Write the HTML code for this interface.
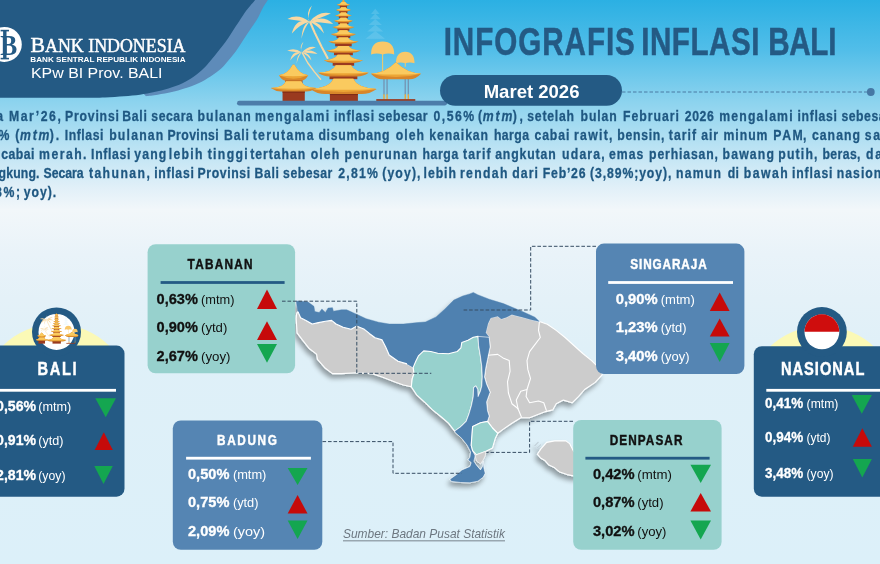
<!DOCTYPE html>
<html lang="id"><head><meta charset="utf-8"><title>Infografis Inflasi Bali</title>
<style>
html,body{margin:0;padding:0;background:#dcf0fa;}
body{width:880px;height:564px;overflow:hidden;font-family:"Liberation Sans",sans-serif;}
svg{display:block}
text{font-family:"Liberation Sans",sans-serif;}
.serif{font-family:"Liberation Serif",serif;}
</style></head><body>
<svg width="880" height="564" viewBox="0 0 880 564">
<defs>
<linearGradient id="bg" x1="0" y1="0" x2="0" y2="1">
<stop offset="0" stop-color="#2bb0e3"/>
<stop offset="0.09" stop-color="#52bee9"/>
<stop offset="0.18" stop-color="#8cd3ee"/>
<stop offset="0.27" stop-color="#bfe4f4"/>
<stop offset="0.335" stop-color="#e2f0f8"/>
<stop offset="0.372" stop-color="#f2f7fa"/>
<stop offset="0.45" stop-color="#e9f3f9"/>
<stop offset="0.53" stop-color="#e4f1f8"/>
<stop offset="0.62" stop-color="#dff0f8"/>
<stop offset="1" stop-color="#dcf0f9"/>
</linearGradient>
<filter id="sh" x="-10%" y="-10%" width="120%" height="130%">
<feGaussianBlur in="SourceAlpha" stdDeviation="2.8"/>
<feOffset dx="-2" dy="4"/>
<feComponentTransfer><feFuncA type="linear" slope="0.36"/></feComponentTransfer>
<feMerge><feMergeNode/><feMergeNode in="SourceGraphic"/></feMerge>
</filter>
</defs>
<rect width="880" height="564" fill="url(#bg)"/>
<g id="header"><path d="M267.8,0.0 C266.9,1.5 264.1,5.7 262.3,8.9 C260.5,12.2 259.1,16.0 257.0,19.5 C254.9,23.0 252.3,26.6 249.9,30.1 C247.5,33.6 245.2,37.2 242.8,40.8 C240.4,44.3 238.1,48.1 235.7,51.4 C233.3,54.6 231.0,57.5 228.6,60.3 C226.2,63.1 224.4,65.5 221.5,68.2 C218.6,70.9 214.7,73.7 210.9,76.2 C207.1,78.7 202.9,81.2 198.5,83.3 C194.1,85.4 188.7,87.1 184.3,88.6 C179.9,90.1 176.3,91.1 171.9,92.1 C167.5,93.1 162.0,94.1 157.7,94.8 C153.4,95.5 147.9,96.0 146.0,96.2 L140,90 L240,0 Z" fill="#5e8bb9"/><path d="M255.2,0.0 C253.7,1.8 249.0,7.0 246.3,10.6 C243.6,14.2 241.6,17.8 239.2,21.3 C236.8,24.9 234.4,28.4 232.1,31.9 C229.8,35.4 227.4,39.2 225.1,42.5 C222.8,45.8 220.4,48.4 218.0,51.4 C215.6,54.4 213.3,57.5 210.9,60.3 C208.5,63.1 206.8,65.4 203.8,68.2 C200.9,71.0 196.8,74.6 193.2,77.1 C189.6,79.6 186.6,81.4 182.5,83.3 C178.4,85.2 173.1,87.1 168.4,88.6 C163.7,90.1 158.9,91.1 154.2,92.1 C149.5,93.1 145.0,94.1 140.0,94.8 C135.0,95.5 129.8,95.9 124.0,96.3 C118.2,96.7 111.5,97.2 105.0,97.4 C98.5,97.6 88.3,97.7 85.0,97.7 L0,97.7 L0,0 Z" fill="#245a84"/></g>
<g id="logo">
<circle cx="4.3" cy="44.4" r="17.5" fill="#fff"/>
<rect x="3.1" y="30.5" width="3.4" height="28.5" fill="#245a84"/>
<rect x="0.6" y="29.8" width="8.4" height="1.6" fill="#245a84"/>
<rect x="0.6" y="57.8" width="8.4" height="1.6" fill="#245a84"/>
<text class="serif" x="0.2" y="55.3" font-size="30" font-weight="bold" fill="#245a84" textLength="17" lengthAdjust="spacingAndGlyphs">B</text>
<text class="serif" x="30.6" y="51.5" font-size="21.8" fill="#fff" stroke="#fff" stroke-width="0.45">B</text>
<text class="serif" x="45" y="51.5" font-size="19" fill="#fff" stroke="#fff" stroke-width="0.45" textLength="140.5" lengthAdjust="spacingAndGlyphs">ANK INDONESIA</text>
<text x="30.3" y="61.8" font-size="7" font-weight="bold" fill="#fff" textLength="155.2" lengthAdjust="spacingAndGlyphs">BANK SENTRAL REPUBLIK INDONESIA</text>
<text x="31" y="77.5" font-size="14.7" fill="#fff" textLength="131.5" lengthAdjust="spacingAndGlyphs">KPw BI Prov. BALI</text>
</g>
<g id="temple">
<g fill="#b9e6f8" opacity="0.2">
<path d="M375.29,8.69 L379.54,13.91 L371.04,13.91 Z"/>
<path d="M375.29,13.52 L380.7,19.32 L369.88,19.32 Z"/>
<path d="M375.29,18.93 L381.86,25.12 L368.72,25.12 Z"/>
<path d="M375.29,24.73 L383.21,31.49 L367.37,31.49 Z"/>
<path d="M375.29,30.91 L384.95,38.64 L365.63,38.64 Z"/>
</g>
<path d="M310.19,22.22 L314.82,32.84 L321.39,46.37 L327.57,57.96" fill="none" stroke="#f8d8a2" stroke-width="2.10" stroke-linecap="round" stroke-linejoin="round"/>
<path d="M309.61,21.64 Q298.01,12.94 287.39,18.93 Q300.91,21.3 309.61,21.64 Z" fill="#f8d8a2"/>
<path d="M309.61,21.64 Q295.7,17.39 291.83,33.62 Q299.17,24.25 309.61,21.64 Z" fill="#f8d8a2"/>
<path d="M309.61,21.64 Q302.26,23.57 301.49,38.64 Q304.1,27.72 309.61,21.64 Z" fill="#f8d8a2"/>
<path d="M309.61,21.64 Q319.27,10.43 330.86,13.52 Q316.85,19.42 309.61,21.64 Z" fill="#f8d8a2"/>
<path d="M309.61,21.64 Q323.52,14.3 333.18,23.96 Q320.04,21.93 309.61,21.64 Z" fill="#f8d8a2"/>
<path d="M309.61,21.64 Q320.81,20.67 324.1,33.62 Q318.01,25.55 309.61,21.64 Z" fill="#f8d8a2"/>
<path d="M309.61,21.64 Q305.36,11.98 311.92,5.41 Q306.42,18.64 309.61,21.64 Z" fill="#f8d8a2"/>
<path d="M302.46,53.13 L307.67,62.79 L314.44,71.87 L320.62,79.21" fill="none" stroke="#f8d8a2" stroke-width="1.39" stroke-linecap="round" stroke-linejoin="round"/>
<path d="M301.88,52.55 Q294.23,46.81 287.21,50.77 Q296.14,52.33 301.88,52.55 Z" fill="#f8d8a2"/>
<path d="M301.88,52.55 Q292.7,49.74 290.15,60.46 Q294.99,54.27 301.88,52.55 Z" fill="#f8d8a2"/>
<path d="M301.88,52.55 Q297.03,53.83 296.52,63.77 Q298.24,56.57 301.88,52.55 Z" fill="#f8d8a2"/>
<path d="M301.88,52.55 Q308.25,45.15 315.9,47.19 Q306.66,51.08 301.88,52.55 Z" fill="#f8d8a2"/>
<path d="M301.88,52.55 Q311.06,47.7 317.43,54.08 Q308.76,52.74 301.88,52.55 Z" fill="#f8d8a2"/>
<path d="M301.88,52.55 Q309.27,51.91 311.44,60.46 Q307.42,55.13 301.88,52.55 Z" fill="#f8d8a2"/>
<path d="M301.88,52.55 Q299.07,46.17 303.41,41.84 Q299.77,50.57 301.88,52.55 Z" fill="#f8d8a2"/>
<rect x="339.8" y="4.64" width="7.23" height="3.09" fill="#9a3a1f"/>
<rect x="339.38" y="10.05" width="8.08" height="2.9" fill="#9a3a1f"/>
<rect x="338.85" y="15.46" width="9.14" height="2.7" fill="#9a3a1f"/>
<rect x="338.21" y="21.25" width="10.41" height="2.7" fill="#9a3a1f"/>
<rect x="337.47" y="27.63" width="11.9" height="3.09" fill="#9a3a1f"/>
<rect x="336.51" y="34.78" width="13.81" height="3.09" fill="#9a3a1f"/>
<rect x="335.13" y="42.5" width="16.58" height="3.86" fill="#9a3a1f"/>
<rect x="333.96" y="51.58" width="18.91" height="3.67" fill="#9a3a1f"/>
<rect x="332.68" y="61.82" width="21.46" height="3.86" fill="#9a3a1f"/>
<rect x="329.5" y="75.35" width="27.84" height="3.86" fill="#9a3a1f"/>
<rect x="329.89" y="92.74" width="28.01" height="8.69" fill="#9a3a1f"/>
<rect x="329.89" y="92.74" width="28.01" height="2.32" fill="#7f2c17"/>
<path d="M343.42,-1.16 L345.15,2.32 L341.68,2.32 Z" fill="#eca535"/>
<path d="M341.45,1.93 L345.39,1.93 Q346.17,4.33 349.98,4.48 Q348.54,5.8 347.03,5.8 L339.8,5.8 Q338.29,5.8 336.85,4.48 Q340.66,4.33 341.45,1.93 Z" fill="#d8862a"/>
<path d="M341.45,1.93 L345.39,1.93 Q346.17,4.33 349.98,4.48 Q343.42,6.11 336.85,4.48 Q340.66,4.33 341.45,1.93 Z" fill="#eca535"/>
<path d="M341.45,1.93 L345.39,1.93 Q346.17,4.33 349.98,4.48 Q343.42,4.95 336.85,4.48 Q340.66,4.33 341.45,1.93 Z" fill="#fbcb62" opacity="0.95"/>
<path d="M341.21,7.34 L345.62,7.34 Q346.5,9.74 350.76,9.89 Q349.14,11.21 347.45,11.21 L339.38,11.21 Q337.69,11.21 336.07,9.89 Q340.33,9.74 341.21,7.34 Z" fill="#d8862a"/>
<path d="M341.21,7.34 L345.62,7.34 Q346.5,9.74 350.76,9.89 Q343.42,11.51 336.07,9.89 Q340.33,9.74 341.21,7.34 Z" fill="#eca535"/>
<path d="M341.21,7.34 L345.62,7.34 Q346.5,9.74 350.76,9.89 Q343.42,10.36 336.07,9.89 Q340.33,9.74 341.21,7.34 Z" fill="#fbcb62" opacity="0.95"/>
<path d="M340.92,12.56 L345.91,12.56 Q346.9,15.07 351.72,15.24 Q349.9,16.62 347.98,16.62 L338.85,16.62 Q336.94,16.62 335.11,15.24 Q339.93,15.07 340.92,12.56 Z" fill="#d8862a"/>
<path d="M340.92,12.56 L345.91,12.56 Q346.9,15.07 351.72,15.24 Q343.42,16.94 335.11,15.24 Q339.93,15.07 340.92,12.56 Z" fill="#eca535"/>
<path d="M340.92,12.56 L345.91,12.56 Q346.9,15.07 351.72,15.24 Q343.42,15.72 335.11,15.24 Q339.93,15.07 340.92,12.56 Z" fill="#fbcb62" opacity="0.95"/>
<path d="M340.58,17.77 L346.26,17.77 Q347.39,20.65 352.88,20.83 Q350.8,22.41 348.62,22.41 L338.21,22.41 Q336.03,22.41 333.95,20.83 Q339.44,20.65 340.58,17.77 Z" fill="#d8862a"/>
<path d="M340.58,17.77 L346.26,17.77 Q347.39,20.65 352.88,20.83 Q343.42,22.78 333.95,20.83 Q339.44,20.65 340.58,17.77 Z" fill="#eca535"/>
<path d="M340.58,17.77 L346.26,17.77 Q347.39,20.65 352.88,20.83 Q343.42,21.39 333.95,20.83 Q339.44,20.65 340.58,17.77 Z" fill="#fbcb62" opacity="0.95"/>
<path d="M340.17,23.57 L346.66,23.57 Q347.96,26.8 354.23,27.01 Q351.85,28.79 349.37,28.79 L337.47,28.79 Q334.98,28.79 332.6,27.01 Q338.87,26.8 340.17,23.57 Z" fill="#d8862a"/>
<path d="M340.17,23.57 L346.66,23.57 Q347.96,26.8 354.23,27.01 Q343.42,29.2 332.6,27.01 Q338.87,26.8 340.17,23.57 Z" fill="#eca535"/>
<path d="M340.17,23.57 L346.66,23.57 Q347.96,26.8 354.23,27.01 Q343.42,27.64 332.6,27.01 Q338.87,26.8 340.17,23.57 Z" fill="#fbcb62" opacity="0.95"/>
<path d="M339.65,30.33 L347.18,30.33 Q348.69,33.81 355.97,34.03 Q353.21,35.94 350.32,35.94 L336.51,35.94 Q333.62,35.94 330.86,34.03 Q338.14,33.81 339.65,30.33 Z" fill="#d8862a"/>
<path d="M339.65,30.33 L347.18,30.33 Q348.69,33.81 355.97,34.03 Q343.42,36.38 330.86,34.03 Q338.14,33.81 339.65,30.33 Z" fill="#eca535"/>
<path d="M339.65,30.33 L347.18,30.33 Q348.69,33.81 355.97,34.03 Q343.42,34.7 330.86,34.03 Q338.14,33.81 339.65,30.33 Z" fill="#fbcb62" opacity="0.95"/>
<path d="M338.89,37.48 L347.94,37.48 Q349.74,41.31 358.49,41.56 Q355.17,43.66 351.7,43.66 L335.13,43.66 Q331.66,43.66 328.35,41.56 Q337.09,41.31 338.89,37.48 Z" fill="#d8862a"/>
<path d="M338.89,37.48 L347.94,37.48 Q349.74,41.31 358.49,41.56 Q343.42,44.16 328.35,41.56 Q337.09,41.31 338.89,37.48 Z" fill="#eca535"/>
<path d="M338.89,37.48 L347.94,37.48 Q349.74,41.31 358.49,41.56 Q343.42,42.3 328.35,41.56 Q337.09,41.31 338.89,37.48 Z" fill="#fbcb62" opacity="0.95"/>
<path d="M338.26,45.98 L348.57,45.98 Q350.64,50.17 360.61,50.44 Q356.83,52.74 352.87,52.74 L333.96,52.74 Q330.0,52.74 326.22,50.44 Q336.19,50.17 338.26,45.98 Z" fill="#d8862a"/>
<path d="M338.26,45.98 L348.57,45.98 Q350.64,50.17 360.61,50.44 Q343.42,53.28 326.22,50.44 Q336.19,50.17 338.26,45.98 Z" fill="#eca535"/>
<path d="M338.26,45.98 L348.57,45.98 Q350.64,50.17 360.61,50.44 Q343.42,51.26 326.22,50.44 Q336.19,50.17 338.26,45.98 Z" fill="#fbcb62" opacity="0.95"/>
<path d="M337.56,54.87 L349.27,54.87 Q351.61,59.9 362.93,60.22 Q358.64,62.98 354.15,62.98 L332.68,62.98 Q328.2,62.98 323.9,60.22 Q335.22,59.9 337.56,54.87 Z" fill="#d8862a"/>
<path d="M337.56,54.87 L349.27,54.87 Q351.61,59.9 362.93,60.22 Q343.42,63.63 323.9,60.22 Q335.22,59.9 337.56,54.87 Z" fill="#eca535"/>
<path d="M337.56,54.87 L349.27,54.87 Q351.61,59.9 362.93,60.22 Q343.42,61.2 323.9,60.22 Q335.22,59.9 337.56,54.87 Z" fill="#fbcb62" opacity="0.95"/>
<path d="M335.82,65.3 L351.01,65.3 Q354.05,72.25 368.72,72.7 Q363.16,76.51 357.34,76.51 L329.5,76.51 Q323.67,76.51 318.11,72.7 Q332.79,72.25 335.82,65.3 Z" fill="#d8862a"/>
<path d="M335.82,65.3 L351.01,65.3 Q354.05,72.25 368.72,72.7 Q343.42,77.4 318.11,72.7 Q332.79,72.25 335.82,65.3 Z" fill="#eca535"/>
<path d="M335.82,65.3 L351.01,65.3 Q354.05,72.25 368.72,72.7 Q343.42,74.04 318.11,72.7 Q332.79,72.25 335.82,65.3 Z" fill="#fbcb62" opacity="0.95"/>
<path d="M333.45,78.83 L353.38,78.83 Q357.37,88.29 376.65,88.9 Q369.34,94.09 361.69,94.09 L325.14,94.09 Q317.5,94.09 310.19,88.9 Q329.46,88.29 333.45,78.83 Z" fill="#d8862a"/>
<path d="M333.45,78.83 L353.38,78.83 Q357.37,88.29 376.65,88.9 Q343.42,95.31 310.19,88.9 Q329.46,88.29 333.45,78.83 Z" fill="#eca535"/>
<path d="M333.45,78.83 L353.38,78.83 Q357.37,88.29 376.65,88.9 Q343.42,90.73 310.19,88.9 Q329.46,88.29 333.45,78.83 Z" fill="#fbcb62" opacity="0.95"/>
<rect x="285.07" y="77.28" width="17.39" height="5.8" fill="#9a3a1f"/>
<rect x="282.56" y="90.42" width="22.22" height="11.01" fill="#9a3a1f"/>
<rect x="282.56" y="90.42" width="22.22" height="2.32" fill="#7f2c17"/>
<path d="M292.8,64.72 L294.34,64.72 Q299.74,74.66 308.25,75.31 Q305.02,80.76 301.65,80.76 L285.49,80.76 Q282.12,80.76 278.89,75.31 Q287.4,74.66 292.8,64.72 Z" fill="#d8862a"/>
<path d="M292.8,64.72 L294.34,64.72 Q299.74,74.66 308.25,75.31 Q293.57,82.04 278.89,75.31 Q287.4,74.66 292.8,64.72 Z" fill="#eca535"/>
<path d="M292.8,64.72 L294.34,64.72 Q299.74,74.66 308.25,75.31 Q293.57,77.23 278.89,75.31 Q287.4,74.66 292.8,64.72 Z" fill="#fbcb62" opacity="0.95"/>
<path d="M285.84,81.14 L301.3,81.14 Q303.15,87.61 316.37,88.03 Q311.35,91.58 306.11,91.58 L281.03,91.58 Q275.79,91.58 270.77,88.03 Q284.0,87.61 285.84,81.14 Z" fill="#d8862a"/>
<path d="M285.84,81.14 L301.3,81.14 Q303.15,87.61 316.37,88.03 Q293.57,92.41 270.77,88.03 Q284.0,87.61 285.84,81.14 Z" fill="#eca535"/>
<path d="M285.84,81.14 L301.3,81.14 Q303.15,87.61 316.37,88.03 Q293.57,89.28 270.77,88.03 Q284.0,87.61 285.84,81.14 Z" fill="#fbcb62" opacity="0.95"/>
<rect x="382.15" y="53.71" width="0.97" height="18.16" fill="#fbcb62"/>
<path d="M371.04,54.48 Q371.04,41.54 382.64,41.54 Q394.23,41.54 394.23,54.48 Q388.43,52.55 382.64,54.48 Q376.84,52.55 371.04,54.48 Z" fill="#f9c869"/>
<rect x="404.76" y="62.6" width="0.97" height="4.06" fill="#fbcb62"/>
<path d="M395.97,63.37 Q395.97,51.78 405.24,51.78 Q414.51,51.78 414.51,63.37 Q409.88,61.44 405.24,63.37 Q400.6,61.44 395.97,63.37 Z" fill="#f9c869"/>
<rect x="383.31" y="78.25" width="1.35" height="16.42" fill="#7396b4"/>
<rect x="383.31" y="94.28" width="1.35" height="5.41" fill="#eca535"/>
<rect x="386.4" y="78.25" width="1.35" height="16.42" fill="#7396b4"/>
<rect x="386.4" y="94.28" width="1.35" height="5.41" fill="#eca535"/>
<rect x="404.56" y="78.25" width="1.35" height="16.42" fill="#7396b4"/>
<rect x="404.56" y="94.28" width="1.35" height="5.41" fill="#eca535"/>
<rect x="407.65" y="78.25" width="1.35" height="16.42" fill="#7396b4"/>
<rect x="407.65" y="94.28" width="1.35" height="5.41" fill="#eca535"/>
<rect x="376.26" y="99.11" width="39.03" height="2.51" fill="#9a3a1f"/>
<path d="M395.39,62.79 L396.55,62.79 Q406.51,72.97 421.08,73.63 Q415.56,79.21 409.78,79.21 L382.15,79.21 Q376.38,79.21 370.85,73.63 Q385.42,72.97 395.39,62.79 Z" fill="#d8862a"/>
<path d="M395.39,62.79 L396.55,62.79 Q406.51,72.97 421.08,73.63 Q395.97,80.53 370.85,73.63 Q385.42,72.97 395.39,62.79 Z" fill="#eca535"/>
<path d="M395.39,62.79 L396.55,62.79 Q406.51,72.97 421.08,73.63 Q395.97,75.6 370.85,73.63 Q385.42,72.97 395.39,62.79 Z" fill="#fbcb62" opacity="0.95"/>
</g>
<rect x="237" y="100.8" width="210" height="4.7" rx="2.35" fill="#4c7ca9"/>
<g id="title">
<text transform="translate(443.7,54.5) scale(0.78,1)" font-size="38" font-weight="bold" fill="#245a84" textLength="245.13" lengthAdjust="spacing" stroke="#245a84" stroke-width="0.5">INFOGRAFIS</text>
<text transform="translate(641.2,54.5) scale(0.78,1)" font-size="38" font-weight="bold" fill="#245a84" textLength="151.54" lengthAdjust="spacing" stroke="#245a84" stroke-width="0.5">INFLASI</text>
<text transform="translate(768.2,54.5) scale(0.78,1)" font-size="38" font-weight="bold" fill="#245a84" textLength="87.44" lengthAdjust="spacing" stroke="#245a84" stroke-width="0.5">BALI</text>
<line x1="622" y1="92" x2="867" y2="92" stroke="#4a7aa3" stroke-width="1" stroke-dasharray="3.5 2"/>
<circle cx="870.8" cy="92" r="3.9" fill="#4678a5"/>
<rect x="440" y="75" width="182" height="30.8" rx="15.4" fill="#245a84"/>
<text x="483.7" y="97.5" font-size="18.5" font-weight="bold" fill="#fff" textLength="95.8" lengthAdjust="spacingAndGlyphs">Maret 2026</text>
</g>
<g id="para" font-size="14.4" font-weight="bold" fill="#1f5882" stroke="#1f5882" stroke-width="0.3">
<text transform="translate(-3.7,120.6) scale(0.85,1)">a</text>
<text transform="translate(8.9,120.6) scale(0.85,1)" textLength="61.06" lengthAdjust="spacing">Mar’26,</text>
<text transform="translate(65.0,120.6) scale(0.85,1)" textLength="63.41" lengthAdjust="spacing">Provinsi</text>
<text transform="translate(122.3,120.6) scale(0.85,1)" textLength="28.94" lengthAdjust="spacing">Bali</text>
<text transform="translate(151.3,120.6) scale(0.85,1)" textLength="48.82" lengthAdjust="spacing">secara</text>
<text transform="translate(197.6,120.6) scale(0.85,1)" textLength="62.59" lengthAdjust="spacing">bulanan</text>
<text transform="translate(255.0,120.6) scale(0.85,1)" textLength="87.18" lengthAdjust="spacing">mengalami</text>
<text transform="translate(333.9,120.6) scale(0.85,1)" textLength="47.29" lengthAdjust="spacing">inflasi</text>
<text transform="translate(378.3,120.6) scale(0.85,1)" textLength="58.00" lengthAdjust="spacing">sebesar</text>
<text transform="translate(433.4,120.6) scale(0.85,1)" textLength="48.00" lengthAdjust="spacing">0,56%</text>
<text transform="translate(478.0,120.6) scale(0.85,1)">(</text>
<text transform="translate(482.8,120.6) scale(0.85,1)" textLength="34.94" lengthAdjust="spacing" font-style="italic">mtm</text>
<text transform="translate(512.7,120.6) scale(0.85,1)" textLength="12.00" lengthAdjust="spacing">),</text>
<text transform="translate(527.3,120.6) scale(0.85,1)" textLength="55.06" lengthAdjust="spacing">setelah</text>
<text transform="translate(580.5,120.6) scale(0.85,1)" textLength="42.71" lengthAdjust="spacing">bulan</text>
<text transform="translate(623.0,120.6) scale(0.85,1)" textLength="65.88" lengthAdjust="spacing">Februari</text>
<text transform="translate(684.8,120.6) scale(0.85,1)" textLength="34.12" lengthAdjust="spacing">2026</text>
<text transform="translate(719.2,120.6) scale(0.85,1)" textLength="86.35" lengthAdjust="spacing">mengalami</text>
<text transform="translate(797.4,120.6) scale(0.85,1)" textLength="46.59" lengthAdjust="spacing">inflasi</text>
<text transform="translate(841.5,120.6) scale(0.85,1)" textLength="58.00" lengthAdjust="spacing">sebesar</text>
<text transform="translate(-1.5,139.6) scale(0.85,1)">%</text>
<text transform="translate(15.3,139.6) scale(0.85,1)">(</text>
<text transform="translate(20.1,139.6) scale(0.85,1)" textLength="34.59" lengthAdjust="spacing" font-style="italic">mtm</text>
<text transform="translate(49.7,139.6) scale(0.85,1)" textLength="11.18" lengthAdjust="spacing">).</text>
<text transform="translate(64.7,139.6) scale(0.85,1)" textLength="45.65" lengthAdjust="spacing">Inflasi</text>
<text transform="translate(109.2,139.6) scale(0.85,1)" textLength="63.65" lengthAdjust="spacing">bulanan</text>
<text transform="translate(167.5,139.6) scale(0.85,1)" textLength="60.24" lengthAdjust="spacing">Provinsi</text>
<text transform="translate(224.1,139.6) scale(0.85,1)" textLength="29.18" lengthAdjust="spacing">Bali</text>
<text transform="translate(252.7,139.6) scale(0.85,1)" textLength="71.65" lengthAdjust="spacing">terutama</text>
<text transform="translate(318.4,139.6) scale(0.85,1)" textLength="83.65" lengthAdjust="spacing">disumbang</text>
<text transform="translate(395.7,139.6) scale(0.85,1)" textLength="33.41" lengthAdjust="spacing">oleh</text>
<text transform="translate(429.2,139.6) scale(0.85,1)" textLength="69.29" lengthAdjust="spacing">kenaikan</text>
<text transform="translate(493.9,139.6) scale(0.85,1)" textLength="41.41" lengthAdjust="spacing">harga</text>
<text transform="translate(534.5,139.6) scale(0.85,1)" textLength="40.94" lengthAdjust="spacing">cabai</text>
<text transform="translate(574.1,139.6) scale(0.85,1)" textLength="45.06" lengthAdjust="spacing">rawit,</text>
<text transform="translate(617.2,139.6) scale(0.85,1)" textLength="55.65" lengthAdjust="spacing">bensin,</text>
<text transform="translate(668.8,139.6) scale(0.85,1)" textLength="32.00" lengthAdjust="spacing">tarif</text>
<text transform="translate(701.2,139.6) scale(0.85,1)" textLength="19.76" lengthAdjust="spacing">air</text>
<text transform="translate(723.5,139.6) scale(0.85,1)" textLength="51.76" lengthAdjust="spacing">minum</text>
<text transform="translate(773.3,139.6) scale(0.85,1)" textLength="34.71" lengthAdjust="spacing">PAM</text>
<text transform="translate(803.1,139.6) scale(0.85,1)">,</text>
<text transform="translate(811.9,139.6) scale(0.85,1)" textLength="56.59" lengthAdjust="spacing">canang</text>
<text transform="translate(864.8,139.6) scale(0.85,1)" textLength="31.41" lengthAdjust="spacing">sari</text>
<text transform="translate(1.3,158.6) scale(0.85,1)" textLength="39.06" lengthAdjust="spacing">cabai</text>
<text transform="translate(39.1,158.6) scale(0.85,1)" textLength="55.76" lengthAdjust="spacing">merah.</text>
<text transform="translate(91.1,158.6) scale(0.85,1)" textLength="46.35" lengthAdjust="spacing">Inflasi</text>
<text transform="translate(134.3,158.6) scale(0.85,1)" textLength="37.53" lengthAdjust="spacing">yang</text>
<text transform="translate(168.7,158.6) scale(0.85,1)" textLength="39.76" lengthAdjust="spacing">lebih</text>
<text transform="translate(207.7,158.6) scale(0.85,1)" textLength="47.06" lengthAdjust="spacing">tinggi</text>
<text transform="translate(250.2,158.6) scale(0.85,1)" textLength="64.82" lengthAdjust="spacing">tertahan</text>
<text transform="translate(310.7,158.6) scale(0.85,1)" textLength="33.65" lengthAdjust="spacing">oleh</text>
<text transform="translate(344.5,158.6) scale(0.85,1)" textLength="85.29" lengthAdjust="spacing">penurunan</text>
<text transform="translate(422.4,158.6) scale(0.85,1)" textLength="42.12" lengthAdjust="spacing">harga</text>
<text transform="translate(463.0,158.6) scale(0.85,1)" textLength="32.35" lengthAdjust="spacing">tarif</text>
<text transform="translate(495.2,158.6) scale(0.85,1)" textLength="71.18" lengthAdjust="spacing">angkutan</text>
<text transform="translate(562.1,158.6) scale(0.85,1)" textLength="50.12" lengthAdjust="spacing">udara,</text>
<text transform="translate(608.9,158.6) scale(0.85,1)" textLength="40.47" lengthAdjust="spacing">emas</text>
<text transform="translate(649.1,158.6) scale(0.85,1)" textLength="81.06" lengthAdjust="spacing">perhiasan,</text>
<text transform="translate(722.6,158.6) scale(0.85,1)" textLength="60.35" lengthAdjust="spacing">bawang</text>
<text transform="translate(778.3,158.6) scale(0.85,1)" textLength="46.12" lengthAdjust="spacing">putih,</text>
<text transform="translate(822.5,158.6) scale(0.85,1)" textLength="44.71" lengthAdjust="spacing">beras,</text>
<text transform="translate(866.0,158.6) scale(0.85,1)" textLength="30.00" lengthAdjust="spacing">dan</text>
<text transform="translate(-1.5,177.6) scale(0.85,1)" textLength="48.24" lengthAdjust="spacing">gkung.</text>
<text transform="translate(43.5,177.6) scale(0.85,1)" textLength="47.06" lengthAdjust="spacing">Secara</text>
<text transform="translate(88.9,177.6) scale(0.85,1)" textLength="71.65" lengthAdjust="spacing">tahunan,</text>
<text transform="translate(154.2,177.6) scale(0.85,1)" textLength="46.59" lengthAdjust="spacing">inflasi</text>
<text transform="translate(197.6,177.6) scale(0.85,1)" textLength="61.88" lengthAdjust="spacing">Provinsi</text>
<text transform="translate(254.6,177.6) scale(0.85,1)" textLength="28.59" lengthAdjust="spacing">Bali</text>
<text transform="translate(283.1,177.6) scale(0.85,1)" textLength="58.00" lengthAdjust="spacing">sebesar</text>
<text transform="translate(338.3,177.6) scale(0.85,1)" textLength="46.71" lengthAdjust="spacing">2,81%</text>
<text transform="translate(382.2,177.6) scale(0.85,1)" textLength="45.06" lengthAdjust="spacing">(yoy),</text>
<text transform="translate(423.5,177.6) scale(0.85,1)" textLength="38.24" lengthAdjust="spacing">lebih</text>
<text transform="translate(460.0,177.6) scale(0.85,1)" textLength="55.76" lengthAdjust="spacing">rendah</text>
<text transform="translate(512.2,177.6) scale(0.85,1)" textLength="30.35" lengthAdjust="spacing">dari</text>
<text transform="translate(542.8,177.6) scale(0.85,1)" textLength="50.24" lengthAdjust="spacing">Feb’26</text>
<text transform="translate(590.1,177.6) scale(0.85,1)" textLength="95.53" lengthAdjust="spacing">(3,89%;yoy),</text>
<text transform="translate(676.1,177.6) scale(0.85,1)" textLength="52.82" lengthAdjust="spacing">namun</text>
<text transform="translate(727.8,177.6) scale(0.85,1)" textLength="13.18" lengthAdjust="spacing">di</text>
<text transform="translate(743.8,177.6) scale(0.85,1)" textLength="51.76" lengthAdjust="spacing">bawah</text>
<text transform="translate(792.0,177.6) scale(0.85,1)" textLength="47.65" lengthAdjust="spacing">inflasi</text>
<text transform="translate(836.8,177.6) scale(0.85,1)" textLength="66.71" lengthAdjust="spacing">nasional</text>
<text transform="translate(-5.1,196.6) scale(0.85,1)" textLength="29.65" lengthAdjust="spacing">8%;</text>
<text transform="translate(23.8,196.6) scale(0.85,1)" textLength="38.00" lengthAdjust="spacing">yoy).</text>
</g>
<g id="map" filter="url(#sh)" stroke="#fff" stroke-width="1.1" stroke-linejoin="round">
<polygon points="296.6,314 296.2,318.7 297.1,332.8 302.4,339.9 309.5,348.8 316.6,354.1 317.5,359.4 325.4,368.3 332.5,373.6 341.4,373.6 357.3,372.7 371.5,373.6 382.1,377.1 396.3,382.5 403.4,385 411.3,386.8 412.2,378.9 414,373.6 413.2,367.4 407,363.9 398.1,361.2 389.2,355 385.7,347 382.1,339.9 375.1,337.8 369.7,333.7 364.4,329.3 356.5,326.1 351.1,329.3 343.2,327.2 336.1,324 331.6,320.4 325.4,321.3 318.4,322.6 312.2,324 306,320.4 300.6,317.8 298,311.6" fill="#cccccc"/>
<polygon points="539.4,321.6 547.3,324.2 556.2,330.4 565.1,337.5 573.9,345.5 582.8,353.5 591.6,360.6 598.7,367.7 602.3,374.7 595.2,382.4 584.6,389.5 578.4,396.6 572.1,402.8 563.3,400.1 556.2,403.7 552.7,409.9 545.6,411.6 538.5,414.3 529.6,417.8 520.8,417.8 511.9,423.2 503,429.4 497.8,433.3 492.5,428 487.5,421.4 489.2,416.1 487.5,410.8 486.6,401.9 490.1,392.2 486.6,384.2 484.5,377 485.7,368.3 487.5,359.4 490.1,347 489.2,337.3 485.7,332.8 488,323.4 490.6,318 497.7,316.3 501.3,318.9 506.6,317.2 511.9,314.5 515.4,315.4 522.5,317.2 531.4,319.8" fill="#cccccc"/>
<polygon points="537.4,454.2 541.1,448.6 546.7,442.4 554.7,440.9 565.9,440.9 569.6,443.6 573.4,451.1 580,458 584,468 580,476 573.4,475.9 567.1,474.6 559.7,472.1 554.7,467.8 548.5,464.7 544.8,460.4 540.5,457.9" fill="#cccccc"/>
<polygon points="296.2,301 307.7,301.8 313.9,306.3 314.8,311.6 319.2,312.5 321.9,308.9 325.4,312.5 328.1,308 332.5,307.7 333.4,311.2 341.4,309.8 346.7,309.8 356.5,314.2 366.2,318.7 378.6,322.2 389.2,324 403.4,324 417.6,322.6 425.4,321.9 436.1,316.9 444.9,308.9 453.8,300.1 462.7,296 469.7,293.9 473.3,292.4 477.7,294.7 489.2,299.2 503.4,303.6 514,308 524.7,312.5 534.9,317.2 539.4,321.6 531.4,319.8 522.5,317.2 515.4,315.4 511.9,314.5 506.6,317.2 501.3,318.9 497.7,316.3 490.6,318 488,323.4 485.7,332.8 489.2,337.3 478.1,336.4 473.3,337.3 468,340.3 461.8,342.6 460.9,347.9 457.3,351.5 448.5,353.8 437.8,353.2 430.8,351.5 423.7,350.9 418.4,355.9 415.8,361.2 413.2,367.4 407,363.9 398.1,361.2 389.2,355 385.7,347 382.1,339.9 375.1,337.8 369.7,333.7 364.4,329.3 356.5,326.1 351.1,329.3 343.2,327.2 336.1,324 331.6,320.4 325.4,321.3 318.4,322.6 312.2,324 306,320.4 300.6,317.8 298,311.6" fill="#4f81b0" stroke="#4f81b0" stroke-width="0.4"/>
<polygon points="413.2,367.4 415.8,361.2 418.4,355.9 423.7,350.9 430.8,351.5 437.8,353.2 448.5,353.8 457.3,351.5 460.9,347.9 461.8,342.6 468,340.3 473.3,337.3 478.1,336.4 478.6,345.3 480.4,355.9 481.8,366.5 482.3,377.1 482.1,380.6 481.8,386 480.4,391.3 478.1,396.6 477.7,389.5 475.9,386 473.6,387.7 473.3,396.6 471.5,405.4 468.9,414.3 466.2,421.4 460.9,426.7 454.7,431.1 448.5,423.2 441.4,417 432.5,409.9 425.4,402.8 416.6,394.8 411.3,386.8 412.2,378.9 414,373.6" fill="#97d1cd"/>
<polygon points="478.1,336.4 489.2,337.3 490.1,347 487.5,359.4 485.7,368.3 484.5,377 486.6,384.2 490.1,392.2 486.6,401.9 487.5,410.8 489.2,416.1 487.5,421.4 480.5,422.7 472.6,426.6 471.9,436 471.2,445.3 472.6,450.6 475.2,455.9 473.9,461.2 476.5,465.2 480.5,469.9 482.5,466.5 483.2,461.2 483.9,467.9 485.2,473.2 483.2,477.2 477.9,481.2 469.9,482.8 460.6,482.5 451.3,481.4 449.9,479.2 456.6,474.5 461.9,469.9 469.9,466.5 471.2,462.6 467.9,459.9 469.9,457.2 470.6,451.9 467.2,445.3 461.9,438.6 455.3,432.6 454.7,431.1 460.9,426.7 466.2,421.4 468.9,414.3 471.5,405.4 473.3,396.6 473.6,387.7 475.9,386 477.7,389.5 478.1,396.6 480.4,391.3 481.8,386 482.1,380.6 482.3,377.1 481.8,366.5 480.4,355.9 478.6,345.3" fill="#4f81b0" stroke-width="0.6"/>
<polygon points="487.5,421.4 480.5,422.7 472.6,426.6 471.9,436 471.2,445.3 472.6,450.6 476.5,454.8 485.9,451.3 492.5,447.9 495.2,438.6 497.8,433.3 492.5,428" fill="#97d1cd"/>
<polygon points="476.5,454.8 485.9,451.3 485.2,455.9 483.2,459.9 480.5,463.9 476.5,461 475.2,455.9" fill="#cccccc" stroke-width="0.6"/>
<polyline points="539.4,321.6 538.5,330.4 540.3,337.5 534.9,344.6 529.6,351.7 527,360.6 527.8,369.4 530.5,378.5 527,389.5 520.8,391.3 516.3,400.1 518.1,409 521.6,417.5" fill="none"/>
<polyline points="488,355.3 497.7,354.4 503,357.9 509.2,360.6 510.1,371.2 507.5,381.8 508.4,393 511.9,403.7 516.3,407.2 518.1,409" fill="none"/>
<polyline points="527,389.5 526.1,396.6 529.6,402.8 538.5,401 543.8,402.8 546.5,410.8" fill="none"/>
<polyline points="407,363.9 398.1,361.2 389.2,355 385.7,347 382.1,339.9 375.1,337.8 369.7,333.7 364.4,329.3 356.5,326.1 351.1,329.3 343.2,327.2 336.1,324 331.6,320.4 325.4,321.3 318.4,322.6 312.2,324 306,320.4 300.6,317.8 298,311.6" fill="none"/>
<path d="M534.5,446 l4,-4 M536.5,448.5 l4.5,-4" stroke="#c5d3dc" stroke-width="1.2" fill="none"/>
</g>
<g id="cards">
<clipPath id="domeclip"><rect x="-10" y="300" width="900" height="50"/></clipPath>
<g clip-path="url(#domeclip)"><circle cx="56" cy="400" r="76" fill="#fbf9b6"/><circle cx="822" cy="402" r="76" fill="#fbf9b6"/></g>
<rect x="147.6" y="244.2" width="147.5" height="129.1" rx="8" fill="#97d1cd"/>
<text transform="translate(187.6,269.1) scale(0.78,1)" font-size="15.1" font-weight="bold" fill="#111" textLength="83.33" lengthAdjust="spacing" stroke="#111" stroke-width="0.45">TABANAN</text>
<rect x="160.6" y="281.1" width="124.0" height="2.8" fill="#245a84"/>
<text x="156.6" y="304.3" font-size="14.6" font-weight="bold" fill="#111" textLength="41.30" lengthAdjust="spacingAndGlyphs" stroke="#111" stroke-width="0.3">0,63%</text>
<text x="201" y="304.3" font-size="13" font-weight="normal" fill="#111" textLength="33.40" lengthAdjust="spacingAndGlyphs">(mtm)</text>
<polygon points="267.0,289.6 277,308.9 257,308.9" fill="#c60a0a"/>
<text x="156.6" y="332.1" font-size="14.6" font-weight="bold" fill="#111" textLength="41.30" lengthAdjust="spacingAndGlyphs" stroke="#111" stroke-width="0.3">0,90%</text>
<text x="201" y="332.1" font-size="13" font-weight="normal" fill="#111" textLength="26.30" lengthAdjust="spacingAndGlyphs">(ytd)</text>
<polygon points="267.0,321.3 277,340 257,340" fill="#c60a0a"/>
<text x="156.6" y="361" font-size="14.6" font-weight="bold" fill="#111" textLength="41.30" lengthAdjust="spacingAndGlyphs" stroke="#111" stroke-width="0.3">2,67%</text>
<text x="201" y="361" font-size="13" font-weight="normal" fill="#111" textLength="29.50" lengthAdjust="spacingAndGlyphs">(yoy)</text>
<polygon points="257,344 277,344 267.0,362.8" fill="#14a650"/>
<rect x="596" y="243.6" width="148.4" height="130.5" rx="8" fill="#5585b3"/>
<text transform="translate(630.3,269.1) scale(0.78,1)" font-size="15.1" font-weight="bold" fill="#fff" textLength="97.95" lengthAdjust="spacing" stroke="#fff" stroke-width="0.45">SINGARAJA</text>
<rect x="608.2" y="281.1" width="124.8" height="2.8" fill="#fff"/>
<text x="615.8000000000001" y="304.3" font-size="14.6" font-weight="bold" fill="#fff" textLength="41.90" lengthAdjust="spacingAndGlyphs" stroke="#fff" stroke-width="0.3">0,90%</text>
<text x="660.7" y="304.3" font-size="13" font-weight="normal" fill="#fff" textLength="34.10" lengthAdjust="spacingAndGlyphs">(mtm)</text>
<polygon points="719.7,292.4 729.6,310.9 709.8,310.9" fill="#c60a0a"/>
<text x="615.8000000000001" y="332.1" font-size="14.6" font-weight="bold" fill="#fff" textLength="41.90" lengthAdjust="spacingAndGlyphs" stroke="#fff" stroke-width="0.3">1,23%</text>
<text x="660.7" y="332.1" font-size="13" font-weight="normal" fill="#fff" textLength="25.80" lengthAdjust="spacingAndGlyphs">(ytd)</text>
<polygon points="719.7,318.5 729.6,336.4 709.8,336.4" fill="#c60a0a"/>
<text x="615.8000000000001" y="361" font-size="14.6" font-weight="bold" fill="#fff" textLength="41.90" lengthAdjust="spacingAndGlyphs" stroke="#fff" stroke-width="0.3">3,40%</text>
<text x="660.7" y="361" font-size="13" font-weight="normal" fill="#fff" textLength="28.80" lengthAdjust="spacingAndGlyphs">(yoy)</text>
<polygon points="709.8,343 729.6,343 719.7,362" fill="#14a650"/>
<rect x="172.8" y="420.4" width="149.5" height="129.4" rx="8" fill="#5585b3"/>
<text transform="translate(217.0,445) scale(0.78,1)" font-size="15.1" font-weight="bold" fill="#fff" textLength="76.79" lengthAdjust="spacing" stroke="#fff" stroke-width="0.45">BADUNG</text>
<rect x="186.1" y="456.8" width="124.8" height="2.8" fill="#fff"/>
<text x="188.0" y="478.9" font-size="14.6" font-weight="bold" fill="#fff" textLength="41.40" lengthAdjust="spacingAndGlyphs" stroke="#fff" stroke-width="0.3">0,50%</text>
<text x="232.9" y="478.9" font-size="13" font-weight="normal" fill="#fff" textLength="33.50" lengthAdjust="spacingAndGlyphs">(mtm)</text>
<polygon points="287.7,468 307.5,468 297.6,485" fill="#14a650"/>
<text x="188.0" y="507.2" font-size="14.6" font-weight="bold" fill="#fff" textLength="41.40" lengthAdjust="spacingAndGlyphs" stroke="#fff" stroke-width="0.3">0,75%</text>
<text x="232.9" y="507.2" font-size="13" font-weight="normal" fill="#fff" textLength="25.60" lengthAdjust="spacingAndGlyphs">(ytd)</text>
<polygon points="297.6,495 307.5,513.5 287.7,513.5" fill="#c60a0a"/>
<text x="188.0" y="536.2" font-size="14.6" font-weight="bold" fill="#fff" textLength="41.40" lengthAdjust="spacingAndGlyphs" stroke="#fff" stroke-width="0.3">2,09%</text>
<text x="232.9" y="536.2" font-size="13" font-weight="normal" fill="#fff" textLength="32.10" lengthAdjust="spacingAndGlyphs">(yoy)</text>
<polygon points="287.7,520.6 307.5,520.6 297.6,539" fill="#14a650"/>
<rect x="573.2" y="419.9" width="148.4" height="129.9" rx="8" fill="#97d1cd"/>
<text transform="translate(609.8,445) scale(0.78,1)" font-size="15.1" font-weight="bold" fill="#111" textLength="93.08" lengthAdjust="spacing" stroke="#111" stroke-width="0.45">DENPASAR</text>
<rect x="585.4" y="456.8" width="124.2" height="2.8" fill="#245a84"/>
<text x="592.9" y="478.9" font-size="14.6" font-weight="bold" fill="#111" textLength="41.70" lengthAdjust="spacingAndGlyphs" stroke="#111" stroke-width="0.3">0,42%</text>
<text x="637.3" y="478.9" font-size="13" font-weight="normal" fill="#111" textLength="34.60" lengthAdjust="spacingAndGlyphs">(mtm)</text>
<polygon points="690.4,464.7 711,464.7 700.7,483" fill="#14a650"/>
<text x="592.9" y="507.2" font-size="14.6" font-weight="bold" fill="#111" textLength="41.70" lengthAdjust="spacingAndGlyphs" stroke="#111" stroke-width="0.3">0,87%</text>
<text x="637.3" y="507.2" font-size="13" font-weight="normal" fill="#111" textLength="26.20" lengthAdjust="spacingAndGlyphs">(ytd)</text>
<polygon points="700.7,493 711,511.5 690.4,511.5" fill="#c60a0a"/>
<text x="592.9" y="536.2" font-size="14.6" font-weight="bold" fill="#111" textLength="41.70" lengthAdjust="spacingAndGlyphs" stroke="#111" stroke-width="0.3">3,02%</text>
<text x="637.3" y="536.2" font-size="13" font-weight="normal" fill="#111" textLength="29.20" lengthAdjust="spacingAndGlyphs">(yoy)</text>
<polygon points="690.4,520.6 711,520.6 700.7,539.6" fill="#14a650"/>
<rect x="-20" y="345.6" width="144.5" height="151.1" rx="8" fill="#245a84"/>
<text transform="translate(37.4,375.2) scale(0.78,1)" font-size="18.8" font-weight="bold" fill="#fff" textLength="50.26" lengthAdjust="spacing" stroke="#fff" stroke-width="0.45">BALI</text>
<rect x="-5" y="388.90000000000003" width="121.0" height="2.8" fill="#fff"/>
<text x="-3.9" y="411" font-size="14.6" font-weight="bold" fill="#fff" textLength="40.00" lengthAdjust="spacingAndGlyphs" stroke="#fff" stroke-width="0.3">0,56%</text>
<text x="38.3" y="411" font-size="13" font-weight="normal" fill="#fff" textLength="33.00" lengthAdjust="spacingAndGlyphs">(mtm)</text>
<polygon points="95.3,398.2 116,398.2 105.7,417.3" fill="#14a650"/>
<text x="-3.9" y="445" font-size="14.6" font-weight="bold" fill="#fff" textLength="40.00" lengthAdjust="spacingAndGlyphs" stroke="#fff" stroke-width="0.3">0,91%</text>
<text x="38.3" y="445" font-size="13" font-weight="normal" fill="#fff" textLength="25.20" lengthAdjust="spacingAndGlyphs">(ytd)</text>
<polygon points="103.8,432.2 112.8,449.9 94.7,449.9" fill="#c60a0a"/>
<text x="-3.9" y="479.7" font-size="14.6" font-weight="bold" fill="#fff" textLength="40.00" lengthAdjust="spacingAndGlyphs" stroke="#fff" stroke-width="0.3">2,81%</text>
<text x="38.3" y="479.7" font-size="13" font-weight="normal" fill="#fff" textLength="27.20" lengthAdjust="spacingAndGlyphs">(yoy)</text>
<polygon points="94.3,465.9 112.8,465.9 103.5,483.9" fill="#14a650"/>
<rect x="753.8" y="346.2" width="150" height="150.5" rx="8" fill="#245a84"/>
<text transform="translate(780.9,375.2) scale(0.78,1)" font-size="18.8" font-weight="bold" fill="#fff" textLength="107.05" lengthAdjust="spacing" stroke="#fff" stroke-width="0.45">NASIONAL</text>
<rect x="766.3" y="388.90000000000003" width="123.7" height="2.8" fill="#fff"/>
<text x="765.1" y="408.4" font-size="14.6" font-weight="bold" fill="#fff" textLength="38.10" lengthAdjust="spacingAndGlyphs" stroke="#fff" stroke-width="0.3">0,41%</text>
<text x="806.6" y="408.4" font-size="13" font-weight="normal" fill="#fff" textLength="31.70" lengthAdjust="spacingAndGlyphs">(mtm)</text>
<polygon points="851.7,395 871.9,395 861.8,413.7" fill="#14a650"/>
<text x="765.1" y="442.4" font-size="14.6" font-weight="bold" fill="#fff" textLength="38.10" lengthAdjust="spacingAndGlyphs" stroke="#fff" stroke-width="0.3">0,94%</text>
<text x="806.6" y="442.4" font-size="13" font-weight="normal" fill="#fff" textLength="23.90" lengthAdjust="spacingAndGlyphs">(ytd)</text>
<polygon points="862.3,428.2 871.9,446.7 852.8,446.7" fill="#c60a0a"/>
<text x="765.1" y="477.6" font-size="14.6" font-weight="bold" fill="#fff" textLength="38.10" lengthAdjust="spacingAndGlyphs" stroke="#fff" stroke-width="0.3">3,48%</text>
<text x="806.6" y="477.6" font-size="13" font-weight="normal" fill="#fff" textLength="26.90" lengthAdjust="spacingAndGlyphs">(yoy)</text>
<polygon points="852.8,459 871.9,459 862.3,477.6" fill="#14a650"/>
<circle cx="56.5" cy="331.9" r="24.5" fill="#245a84"/><circle cx="56.5" cy="331.9" r="18" fill="#fff"/>
<g transform="translate(56.5,331.9)"><clipPath id="cpb"><circle r="22"/></clipPath><g clip-path="url(#cpb)"><use href="#temple" transform="translate(-102.3,-18.5) scale(0.298)"/></g></g>
<circle cx="821.9" cy="331.9" r="24.9" fill="#245a84"/><circle cx="821.9" cy="331.9" r="17.4" fill="#fff"/>
<path d="M804.5,331.7 A17.4,17.4 0 0 1 839.3,331.7 Z" fill="#cf0d0d"/>
</g>
<g id="conn" fill="none" stroke="#364d63" stroke-width="1" stroke-dasharray="3.6 1.9"><polyline points="282,301.2 356.8,301.2 356.8,373.3 431.3,373.3"/><polyline points="596,246.3 530.7,246.3 530.7,310 463,310"/><polyline points="322.5,441.6 393,441.6 393,473.3 461.5,473.3"/><polyline points="573,421.3 529.6,421.3 529.6,452.4 486.3,452.4"/></g>
<g id="src"><text x="343" y="538.2" font-size="12.6" font-style="italic" fill="#6d7780" textLength="162" lengthAdjust="spacingAndGlyphs">Sumber: Badan Pusat Statistik</text><rect x="343" y="540.4" width="162" height="0.9" fill="#6d7780"/></g>
</svg>
</body></html>
